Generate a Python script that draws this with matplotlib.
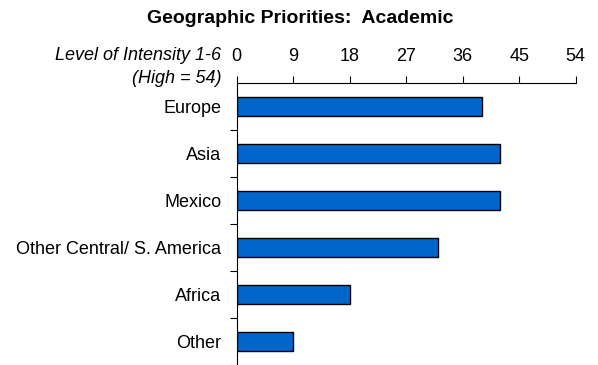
import matplotlib
matplotlib.use("Agg")
import matplotlib.pyplot as plt
import numpy as np

plt.rcParams['font.family'] = ['Liberation Sans', 'DejaVu Sans']

# regions and their intensity scores
regions = ['Europe', 'Asia', 'Mexico', 'Other Central/ S. America', 'Africa', 'Other']
scores = [39, 42, 42, 32, 18, 9]
x_ticks = [0, 9, 18, 27, 36, 45, 54]

fig = plt.figure(figsize=(5.98, 3.65), dpi=100)
ax = fig.add_axes([0.3958, 0.0, 0.5669, 0.7726])

y = np.arange(len(regions))
ax.barh(y, scores, height=0.39, color='#0066CC', edgecolor='black', linewidth=1.0)

ax.set_xlim(0, 54)
ax.set_ylim(len(regions) - 0.5, -0.5)
ax.xaxis.tick_top()
ax.set_xticks(x_ticks)
ax.set_xticklabels([str(t) for t in x_ticks])
ax.tick_params(axis='x', direction='out', length=5, width=0.8, pad=8, labelsize=13)

ax.set_yticks(y)
ax.set_yticklabels(regions)
ax.tick_params(axis='y', which='major', length=0, pad=11, labelsize=13)
ax.set_yticks(np.arange(0.5, len(regions), 1.0), minor=True)
ax.tick_params(axis='y', which='minor', direction='out', length=5, width=0.8)

for side in ['right', 'bottom']:
    ax.spines[side].set_visible(False)
for side in ['top', 'left']:
    ax.spines[side].set_linewidth(0.8)

fig.text(0.502, 0.948, 'Geographic Priorities:  Academic', ha='center', va='center',
         fontsize=14, fontweight='bold')
fig.text(0.37, 0.849, 'Level of Intensity 1-6', ha='right', va='center',
         fontsize=13, style='italic')
fig.text(0.37, 0.786, '(High = 54)', ha='right', va='center',
         fontsize=13, style='italic')

fig.savefig('out.png', dpi=100)
